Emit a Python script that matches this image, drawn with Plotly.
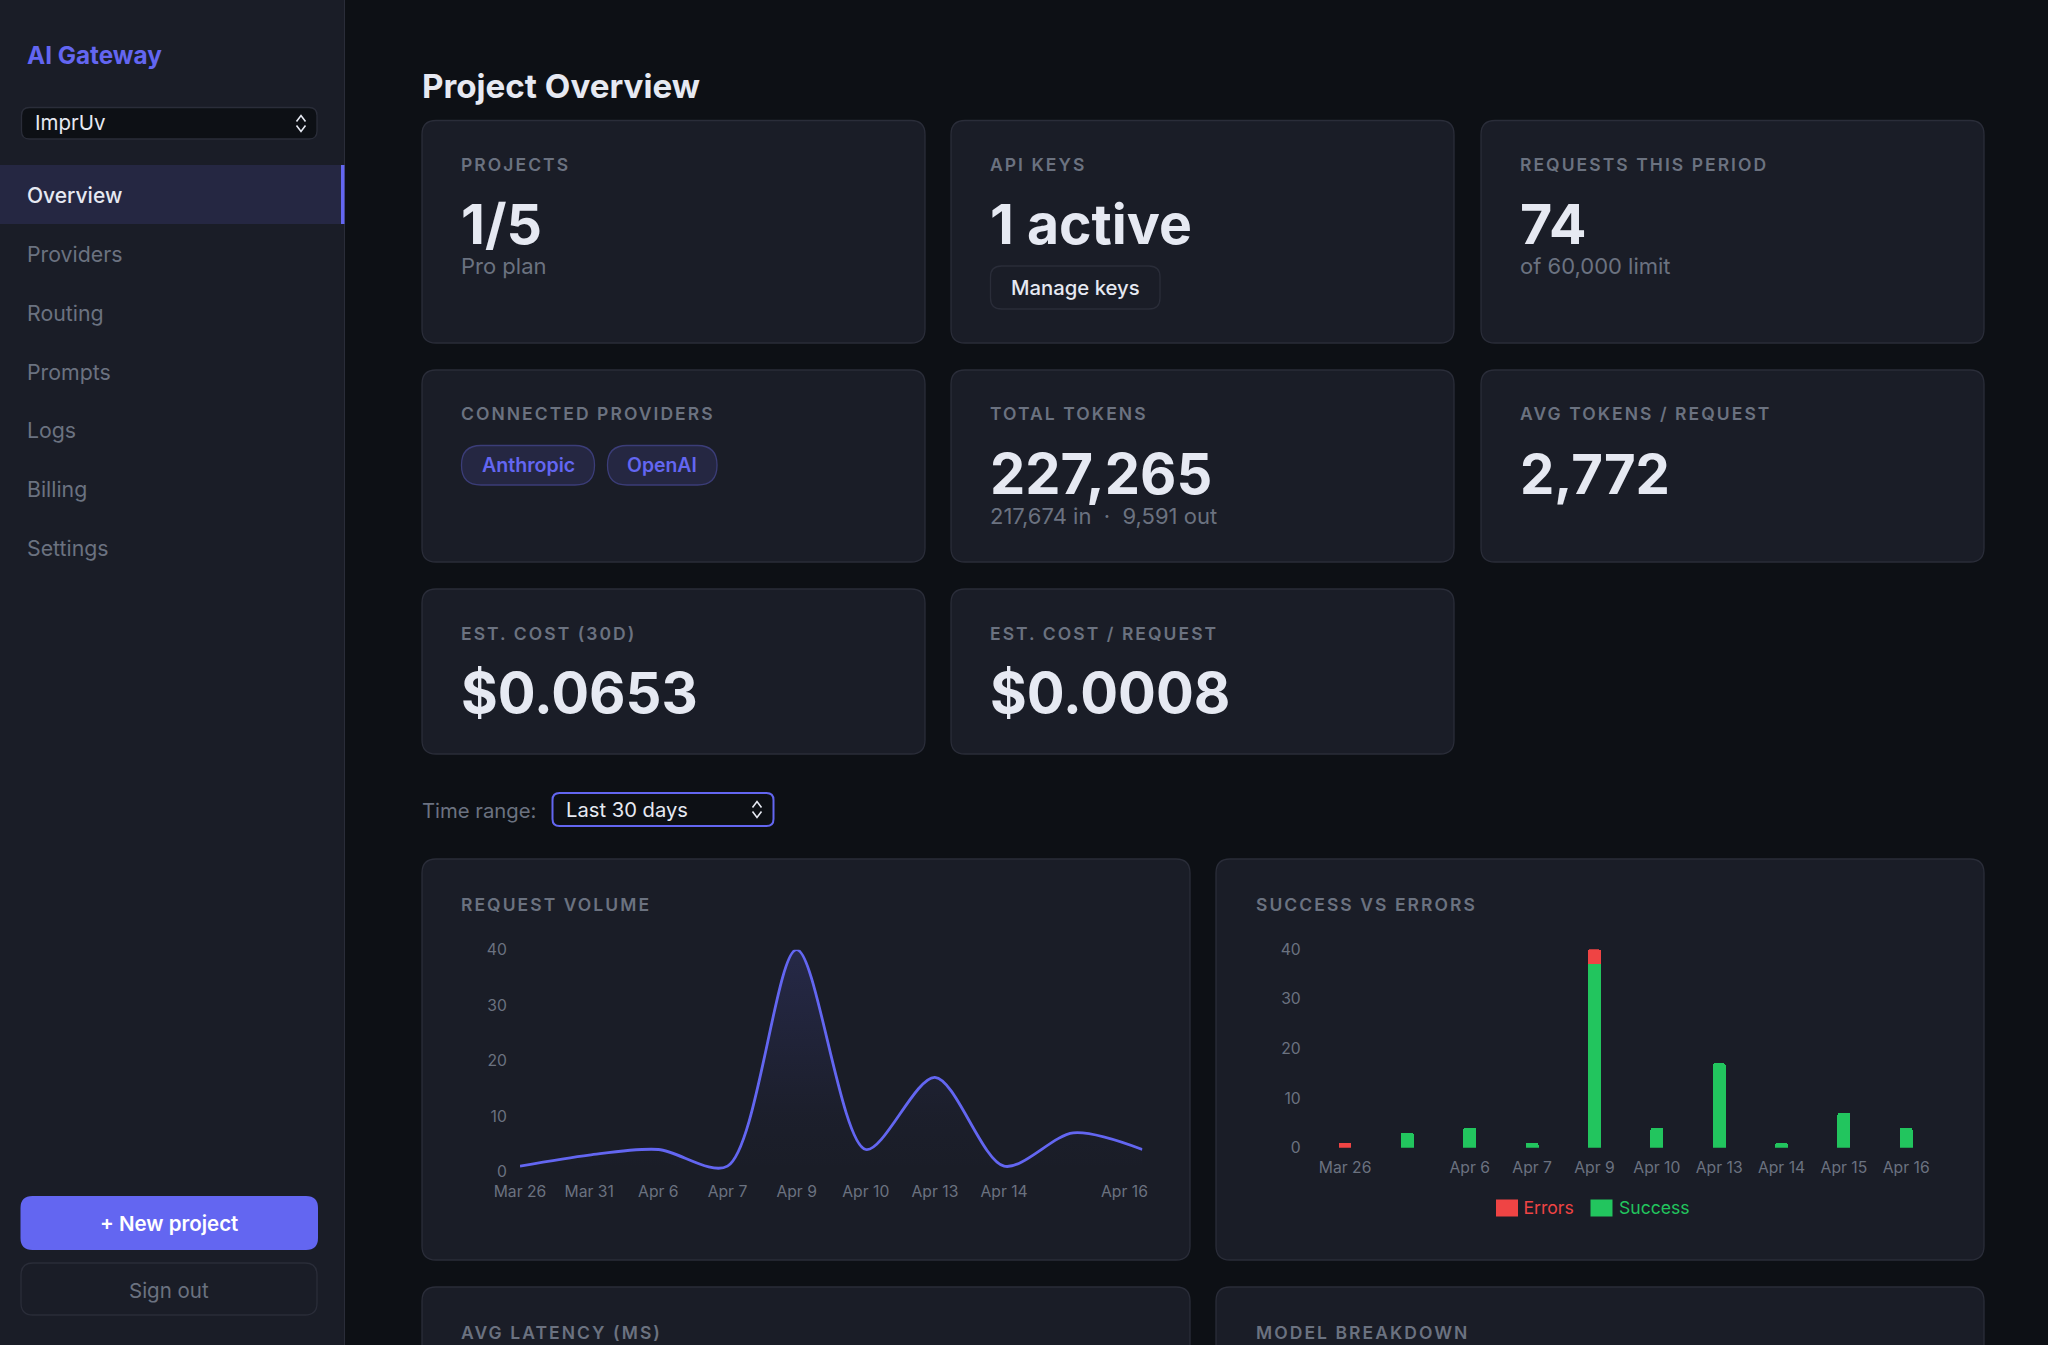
import plotly.graph_objects as go

# ---------- data ----------
volume_dates = ["Mar 26", "Mar 31", "Apr 6", "Apr 7", "Apr 9", "Apr 10", "Apr 13", "Apr 14", "Apr 15", "Apr 16"]
volume_values = [1, 3, 4, 1, 40, 4, 17, 1, 7, 4]
volume_ticks = ["Mar 26", "Mar 31", "Apr 6", "Apr 7", "Apr 9", "Apr 10", "Apr 13", "Apr 14"]
success_values = [0, 3, 4, 1, 37, 4, 17, 1, 7, 4]
error_values = [1, 0, 0, 0, 3, 0, 0, 0, 0, 0]
outcome_ticks = ["Mar 26", "Apr 6", "Apr 7", "Apr 9", "Apr 10", "Apr 13", "Apr 14", "Apr 15", "Apr 16"]
y_ticks = [0, 10, 20, 30, 40]
nav_items = ["Providers", "Routing", "Prompts", "Logs", "Billing", "Settings"]

# ---------- palette ----------
W, H = 2048, 1345
BG = "#0d1015"
SURF = "#1a1d27"
BORDER = "#2a2d39"
ACCENT = "#6366f1"
TEXT = "#e6e9f2"
MUTED = "#6b7280"
RED = "#ef4444"
GREEN = "#22c55e"
FONT = "Inter"


def px(x):
    return x / W


def py(y):
    return 1 - y / H


def rrect(x0, y0, x1, y1, r=14, fill=SURF, line=BORDER, lw=1.3):
    X0, X1, Y0, Y1 = px(x0), px(x1), py(y0), py(y1)
    rx, ry = r / W, r / H
    path = (f"M{X0 + rx},{Y0} L{X1 - rx},{Y0} Q{X1},{Y0} {X1},{Y0 - ry} "
            f"L{X1},{Y1 + ry} Q{X1},{Y1} {X1 - rx},{Y1} "
            f"L{X0 + rx},{Y1} Q{X0},{Y1} {X0},{Y1 + ry} "
            f"L{X0},{Y0 - ry} Q{X0},{Y0} {X0 + rx},{Y0} Z")
    return dict(type="path", xref="paper", yref="paper", path=path, fillcolor=fill,
                line=dict(color=line, width=lw), layer="below")


def box(x0, y0, x1, y1, fill):
    return dict(type="rect", xref="paper", yref="paper", x0=px(x0), x1=px(x1), y0=py(y0), y1=py(y1),
                fillcolor=fill, line=dict(width=0), layer="below")


def chevrons(cx, cy):
    out = []
    for a, b in ((cy - 1.5, cy - 7.5), (cy + 2.5, cy + 8.5)):
        p = f"M{px(cx - 4.5)},{py(a)} L{px(cx)},{py(b)} L{px(cx + 4.5)},{py(a)}"
        out.append(dict(type="path", xref="paper", yref="paper", path=p,
                        line=dict(color=TEXT, width=1.6), layer="below"))
    return out


def txt(x, y, s, size, color=TEXT, weight=400, anchor="left"):
    return dict(xref="paper", yref="paper", x=px(x), y=py(y), text=s, showarrow=False,
                xanchor=anchor, yanchor="middle", align=anchor, borderpad=0,
                font=dict(family=FONT, size=size, color=color, weight=weight))


shapes = [box(0, 0, 345, H, SURF), box(344, 0, 345, H, BORDER)]
ann = []

# sidebar
ann.append(txt(26, 54.5, "AI Gateway", 24.3, ACCENT, 700))
shapes.append(rrect(21.5, 107.5, 317, 139, 8, BG))
shapes += chevrons(301, 123)
ann.append(txt(34, 122.5, "ImprUv", 20.5, TEXT))
shapes.append(box(0, 165, 341, 224, "#252742"))
shapes.append(box(341, 165, 344.5, 224, ACCENT))
ann.append(txt(26, 195.5, "Overview", 21, TEXT, 500))
for i, item in enumerate(nav_items):
    ann.append(txt(26, 254.3 + i * 58.7, item, 21.3, MUTED))
shapes.append(rrect(20.5, 1196, 318, 1250, 12, ACCENT, ACCENT, 0))
ann.append(txt(169, 1223.5, "+ New project", 20.5, "#ffffff", 600, "center"))
shapes.append(rrect(21, 1263, 317, 1315, 12, "rgba(0,0,0,0)", BORDER))
ann.append(txt(169, 1290, "Sign out", 20.5, MUTED, 400, "center"))

# header
ann.append(txt(421, 86, "Project Overview", 33.2, TEXT, 700))

# stat cards
X1, X2, X3 = 460, 989, 1519
for x0, x1 in ((422, 925), (951, 1454), (1481, 1984)):
    shapes.append(rrect(x0, 120.5, x1, 343))
    shapes.append(rrect(x0, 370, x1, 562))
for x0, x1 in ((422, 925), (951, 1454)):
    shapes.append(rrect(x0, 589, x1, 754))

LAB = 17.5
for x, y, s in ((X1, 164, "PROJECTS"), (X2, 164, "API KEYS"), (X3, 164, "REQUESTS THIS PERIOD"),
                (X1, 414, "CONNECTED PROVIDERS"), (X2, 414, "TOTAL TOKENS"), (X3, 414, "AVG TOKENS / REQUEST"),
                (X1, 633, "EST. COST (30D)"), (X2, 633, "EST. COST / REQUEST"),
                (460, 904, "REQUEST VOLUME"), (1254.5, 904, "SUCCESS VS ERRORS"),
                (460, 1332, "AVG LATENCY (MS)"), (1254.5, 1332, "MODEL BREAKDOWN")):
    ann.append(txt(x, y, s, LAB, MUTED, 600))
for x, y, s, z in ((X1, 224, "1/5", 55.5), (X2, 224, "1 active", 55.3), (X3, 224, "74", 55.5),
                   (X2, 473.5, "227,265", 56), (X3, 473.5, "2,772", 54.5),
                   (X1, 693, "$0.0653", 56.2), (X2, 693, "$0.0008", 56.2)):
    ann.append(txt(x, y, s, z, TEXT, 700))
for x, y, s in ((X1, 266, "Pro plan"), (X3, 266, "of 60,000 limit"),
                (X2, 516, "217,674 in \u00a0\u00b7\u00a0 9,591 out")):
    ann.append(txt(x, y, s, 22, MUTED))

shapes.append(rrect(990.5, 266, 1160, 309, 11, "rgba(0,0,0,0)", BORDER))
ann.append(txt(1075, 287.5, "Manage keys", 20.3, TEXT, 500, "center"))

shapes.append(rrect(461.5, 445.5, 594.5, 485, 19.5, "#252742", "#3b3d78"))
shapes.append(rrect(607.5, 445.5, 717, 485, 19.5, "#252742", "#3b3d78"))
ann.append(txt(528, 465, "Anthropic", 19.6, ACCENT, 600, "center"))
ann.append(txt(662, 465, "OpenAI", 19.4, ACCENT, 600, "center"))

# time range
ann.append(txt(421, 810, "Time range:", 20.3, MUTED))
shapes.append(rrect(552.5, 793, 773.5, 826, 7, BG, ACCENT, 2))
shapes += chevrons(757, 809)
ann.append(txt(565, 809.5, "Last 30 days", 20.2, TEXT))

# chart cards
for x0, x1 in ((422, 1190), (1216, 1984)):
    shapes.append(rrect(x0, 859, x1, 1260))
    shapes.append(rrect(x0, 1287, x1, 1420))

# legend swatches sitting behind the legends' own keys
LEG_Y = 1208
ERR_L, OK_L = 1483.5, 1579
shapes.append(box(ERR_L + 12.5, LEG_Y - 8.5, ERR_L + 34.5, LEG_Y + 8.5, RED))
shapes.append(box(OK_L + 11.5, LEG_Y - 8.5, OK_L + 33.5, LEG_Y + 8.5, GREEN))

# Apr 16 tick is nudged left so it stays inside the chart
ann.append(dict(xref="x", yref="y", x="Apr 16", y=0, text="Apr 16", showarrow=False, xshift=-18, yshift=-20,
                xanchor="center", yanchor="middle", font=dict(family=FONT, size=15.7, color=MUTED)))

fig = go.Figure()
fig.add_trace(go.Scatter(
    x=volume_dates, y=volume_values, mode="lines", xaxis="x", yaxis="y", showlegend=False, cliponaxis=False,
    line=dict(color=ACCENT, width=2.8, shape="spline", smoothing=0.85), fill="tozeroy",
    fillgradient=dict(type="vertical", colorscale=[[0, "rgba(99,102,241,0)"], [0.25, "rgba(99,102,241,0.02)"],
                                                   [1, "rgba(99,102,241,0.16)"]]),
    hoverinfo="x+y"))
fig.add_trace(go.Bar(x=volume_dates, y=success_values, name="Success", marker=dict(color=GREEN, line=dict(width=0)),
                     xaxis="x2", yaxis="y2", legend="legend2", width=0.205))
fig.add_trace(go.Bar(x=volume_dates, y=error_values, name="Errors", marker=dict(color=RED, line=dict(width=0)),
                     xaxis="x2", yaxis="y2", legend="legend", width=0.205))

tickfont = dict(family=FONT, size=15.7, color=MUTED)


def yax(top, bottom, anchor):
    return dict(domain=[py(bottom), py(top)], range=[0, 40], anchor=anchor, tickvals=y_ticks, tickfont=tickfont,
                showgrid=False, zeroline=False, showline=False, ticks="outside", ticklen=9,
                tickcolor="rgba(0,0,0,0)", fixedrange=True)


def xax(left, right, rng, anchor, tickvals):
    return dict(domain=[px(left), px(right)], range=rng, type="category", categoryorder="array",
                categoryarray=volume_dates, anchor=anchor, tickmode="array", tickvals=tickvals,
                ticktext=tickvals, tickfont=tickfont, tickangle=0, showgrid=False, zeroline=False, showline=False,
                ticks="outside", ticklen=5.5, tickcolor="rgba(0,0,0,0)", fixedrange=True)


def legend(x, color):
    return dict(x=px(x), y=py(LEG_Y - 1), xanchor="left", yanchor="middle", bgcolor="rgba(0,0,0,0)", borderwidth=0,
                font=dict(family=FONT, size=17.6, color=color), itemclick=False, itemdoubleclick=False)


fig.update_layout(
    width=W, height=H, margin=dict(l=0, r=0, t=0, b=0, pad=0, autoexpand=False), autosize=False,
    paper_bgcolor=BG, plot_bgcolor="rgba(0,0,0,0)", font=dict(family=FONT, color=MUTED),
    shapes=shapes, annotations=ann, barmode="stack", barcornerradius=2, showlegend=True,
    xaxis=xax(520, 1142.4, [0, 9], "y", volume_ticks),
    yaxis=yax(949.7, 1171.7, "x"),
    xaxis2=xax(1313.9, 1937.4, [-0.5, 9.5], "y2", outcome_ticks),
    yaxis2=yax(949.3, 1147.7, "x2"),
    legend=legend(ERR_L, RED),
    legend2=legend(OK_L, GREEN),
)

post = """
document.documentElement.style.margin='0';
document.body.style.margin='0';
document.documentElement.style.overflow='hidden';
document.querySelectorAll('.annotation-text').forEach(function(t){
  var s=t.textContent;
  if(/[A-Z]{3}/.test(s) && !/[a-z]/.test(s)){t.style.letterSpacing='2.05px';}
});
"""
fig.write_html("out.html", config={"displayModeBar": False, "responsive": False}, post_script=post)
